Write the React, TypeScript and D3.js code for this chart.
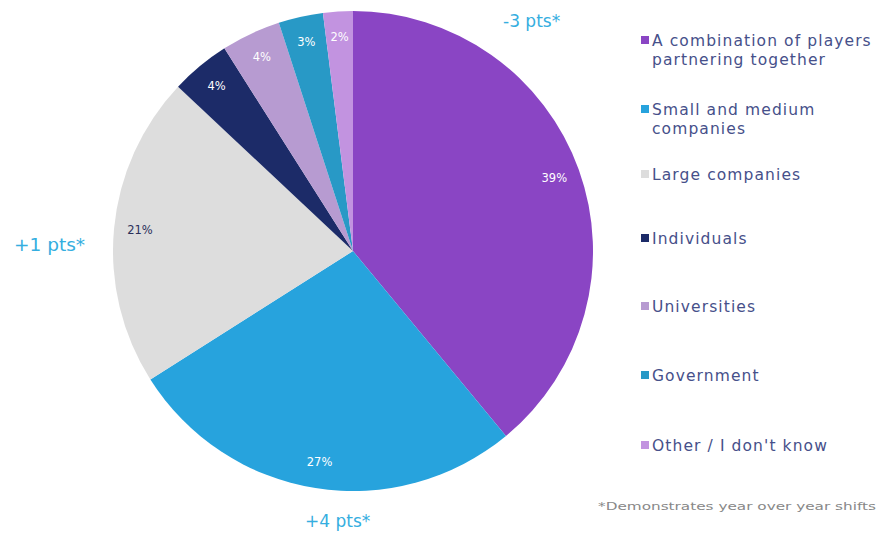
import React from "react";
import * as d3 from "d3";

const categories = [
  "A combination of players partnering together",
  "Small and medium companies",
  "Large companies",
  "Individuals",
  "Universities",
  "Government",
  "Other / I don't know",
];
const values = [39, 27, 21, 4, 4, 3, 2];
const colors = ["#8a45c4", "#27a3dd", "#dddddd", "#1c2b68", "#b79bd1", "#2899c6", "#c293e0"];
const labelColors = ["#ffffff", "#ffffff", "#2a2f5a", "#ffffff", "#ffffff", "#ffffff", "#ffffff"];
const legendLines = [
  ["A combination of players", "partnering together"],
  ["Small and medium", "companies"],
  ["Large companies"],
  ["Individuals"],
  ["Universities"],
  ["Government"],
  ["Other / I don't know"],
];
const legendY = [46, 115, 180, 244, 312, 381, 451];
const annotations = [
  { text: "-3 pts*", x: 503, y: 27, size: 17 },
  { text: "+1 pts*", x: 14, y: 251, size: 18.5 },
  { text: "+4 pts*", x: 305, y: 527, size: 17 },
];
const footnote = "*Demonstrates year over year shifts";

export default function App() {
  const W = 880, H = 551;
  const cx = 353, cy = 251, r = 240;
  const pie = d3.pie<number>().sort(null).value((d) => d);
  const arcs = pie(values);
  const arcGen = d3.arc<d3.PieArcDatum<number>>().innerRadius(0).outerRadius(r);
  const labelArc = d3.arc<d3.PieArcDatum<number>>().innerRadius(214).outerRadius(214);
  const font = "'DejaVu Sans', sans-serif";
  return (
    <svg width={W} height={H} style={{ position: "absolute", left: 0, top: 0, background: "#fff" }}>
      <g transform={`translate(${cx},${cy})`}>
        {arcs.map((a, i) => (
          <path key={i} d={arcGen(a) || ""} fill={colors[i]} />
        ))}
        {arcs.map((a, i) => {
          const [x, y] = labelArc.centroid(a);
          return (
            <text key={i} x={x} y={y} textAnchor="middle" dominantBaseline="middle"
              fontFamily={font} fontSize={11.5} fill={labelColors[i]}>
              {values[i]}%
            </text>
          );
        })}
      </g>
      {legendLines.map((lines, i) => (
        <g key={i}>
          <rect x={641} y={legendY[i] - 10} width={8} height={8} fill={colors[i]} />
          {lines.map((l, j) => (
            <text key={j} x={652} y={legendY[i] + j * 19} fontFamily={font} fontSize={15.5}
              letterSpacing={1.1} fill="#46508a">
              {l}
            </text>
          ))}
        </g>
      ))}
      {annotations.map((a, i) => (
        <text key={i} x={a.x} y={a.y} fontFamily={font} fontSize={a.size} fill="#35aee0">{a.text}</text>
      ))}
      <text x={598} y={510} fontFamily={font} fontSize={11} fill="#888" textLength={278} lengthAdjust="spacingAndGlyphs">{footnote}</text>
    </svg>
  );
}
